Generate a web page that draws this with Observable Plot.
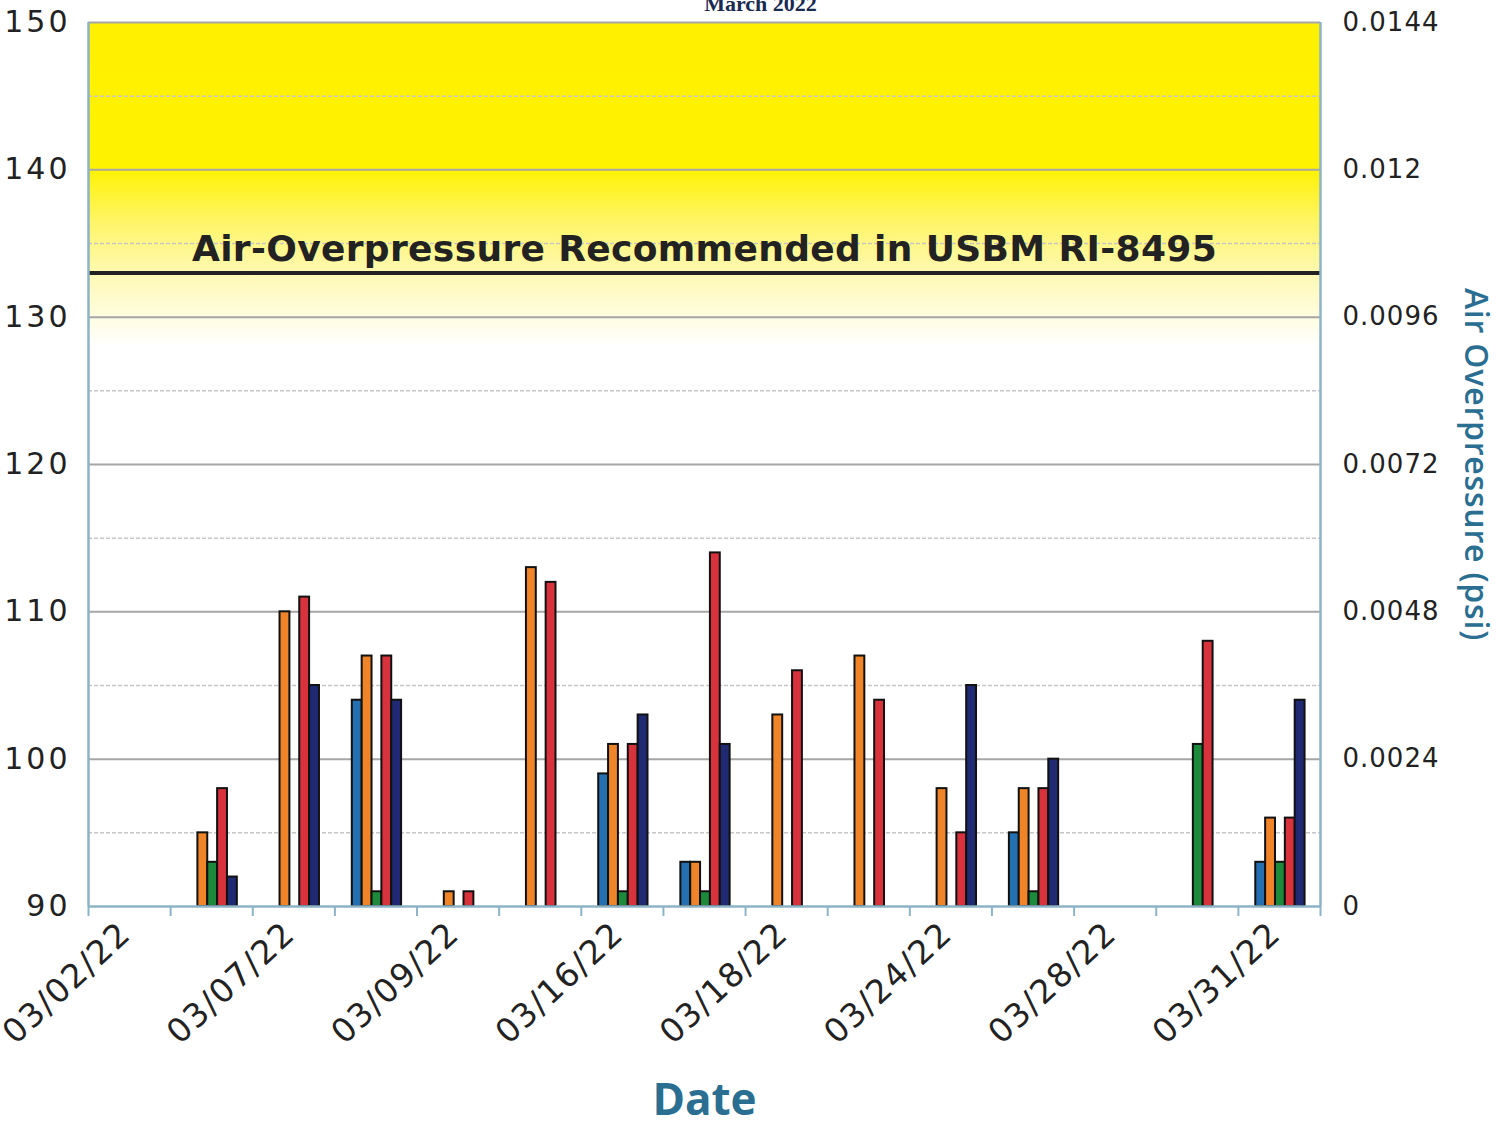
<!DOCTYPE html>
<html><head><meta charset="utf-8">
<script src="https://cdn.jsdelivr.net/npm/d3@7"></script>
<script src="https://cdn.jsdelivr.net/npm/@observablehq/plot@0.6"></script>
<style>
body{margin:0;background:#fff;}
#chart{position:absolute;left:0;top:0;}
</style></head><body><div id="chart"></div>
<script>
// ---- data ----
const title = "March 2022";
const categories = ["c01","c02","c03","c04","c05","c06","c07","c08","c09","c10","c11","c12","c13","c14","c15"];
const tickLabels = ["03/02/22","03/07/22","03/09/22","03/16/22","03/18/22","03/24/22","03/28/22","03/31/22"];
const seriesNames = ["Series 1","Series 2","Series 3","Series 4","Series 5"];
const seriesColors = ["#2470b0","#ef8429","#1d8a3b","#d8323d","#1f2a72"];
const series1 = [null,null,null,104,null,null,99,93,null,null,null,95,null,null,93];
const series2 = [null,95,110,107,91,113,101,93,103,107,98,98,null,null,96];
const series3 = [null,93,null,91,null,null,91,91,null,null,null,91,null,101,93];
const series4 = [null,98,111,107,91,112,101,114,106,104,95,98,null,108,96];
const series5 = [null,92,105,104,null,null,103,101,null,null,105,100,null,null,104];
const dbTicks = [90,100,110,120,130,140,150];
const minorTicks = [95,105,115,125,135,145];
const majorGrid = [100,110,120,130,140,150];
const psiLabels = ["0","0.0024","0.0048","0.0072","0.0096","0.012","0.0144"];
const limitDb = 133;
const limitLabel = "Air-Overpressure Recommended in USBM RI-8495";
const bandTop = 150, bandBottom = 128;
const yAxisTitle = "Air Overpressure (psi)";
const xAxisTitle = "Date";

// ---- build table ----
const seriesValues = [series1, series2, series3, series4, series5];
const groupWidth = 0.6;
const slot = groupWidth / seriesNames.length;
const rows = [];
categories.forEach((c, i) => seriesValues.forEach((vals, j) => {
  const v = vals[i];
  if (v != null) rows.push({cat: c, series: seriesNames[j], value: v,
    x1: i + 0.5 - groupWidth / 2 + j * slot + 0.012,
    x2: i + 0.5 - groupWidth / 2 + (j + 1) * slot + 0.012});
}));
const nCat = categories.length;
const labelPos = tickLabels.map((_, k) => 2 * k + 0.5);
const axisBlue = "#8db3c7";
const teal = "#2a6e92";

const plot = Plot.plot({
  width: 1510, height: 1124,
  marginLeft: 88, marginRight: 190, marginTop: 22, marginBottom: 218,
  x: {domain: [0, nCat]},
  y: {domain: [dbTicks[0], dbTicks[dbTicks.length - 1]]},
  color: {domain: seriesNames, range: seriesColors},
  style: {fontFamily: "DejaVu Sans", background: "white", color: "#222"},
  marks: [
    Plot.rect([{x1: 0, x2: nCat, y1: bandBottom, y2: bandTop}], {x1: "x1", x2: "x2", y1: "y1", y2: "y2", fill: "url(#yellowFade)"}),
    Plot.ruleY(minorTicks, {stroke: "#c6c6c6", strokeWidth: 1.5, strokeDasharray: "4,2"}),
    Plot.ruleY(majorGrid, {stroke: "#a6a6a6", strokeWidth: 2}),
    Plot.ruleY([limitDb], {stroke: "#222", strokeWidth: 4}),
    Plot.text([limitLabel], {x: nCat / 2, y: limitDb, dy: -12, lineAnchor: "bottom", fontSize: 36, fontWeight: "bold", fill: "#222"}),
    Plot.rect(rows, {x1: "x1", x2: "x2", y1: dbTicks[0], y2: "value", fill: "series", stroke: "#111", strokeWidth: 2}),
    Plot.ruleY([dbTicks[0]], {stroke: axisBlue, strokeWidth: 2.5}),
    Plot.ruleX([0, nCat], {stroke: axisBlue, strokeWidth: 2.5}),
    Plot.axisX({ticks: d3.range(nCat + 1), tickSize: 10, tickFormat: () => "", stroke: axisBlue, strokeWidth: 2, label: null}),
    Plot.axisX({ticks: labelPos, tickSize: 0, tickPadding: 22, tickRotate: -43, fontSize: 33, dx: -4,
      tickFormat: d => tickLabels[(d - 0.5) / 2], label: null}),
    Plot.axisY({anchor: "left", ticks: dbTicks, tickSize: 0, tickPadding: 18, fontSize: 30, label: null}),
    Plot.axisY({anchor: "right", ticks: dbTicks, tickSize: 0, tickPadding: 22, fontSize: 26, label: null,
      tickFormat: d => psiLabels[dbTicks.indexOf(d)]}),
    Plot.text([yAxisTitle], {frameAnchor: "right", textAnchor: "middle", rotate: 90, dx: 155, fontSize: 32, fontWeight: 600, fontFamily: "Open Sans", fill: teal}),
    Plot.text([xAxisTitle], {frameAnchor: "bottom", lineAnchor: "middle", dy: 194, fontSize: 44, fontWeight: 700, fontFamily: "Open Sans", fill: teal}),
    Plot.text([title], {frameAnchor: "top", lineAnchor: "bottom", dx: 56, dy: -12, fontSize: 22, fontWeight: "bold", fontFamily: "Liberation Serif", fill: "#1a2a50"})
  ]
});
d3.select(plot).insert("defs", ":first-child").html(`
<linearGradient id="yellowFade" x1="0" y1="0" x2="0" y2="1">
 <stop offset="0" stop-color="#fff000"/>
 <stop offset="0.45" stop-color="#fff200"/>
 <stop offset="0.62" stop-color="#fff56a"/>
 <stop offset="0.78" stop-color="#fff9b4"/>
 <stop offset="1" stop-color="#ffffff"/>
</linearGradient>`);
// letter spacing tweaks
const yLabelGroups = d3.select(plot).selectAll('g[aria-label="y-axis tick label"]');
yLabelGroups.each(function(_, k) { d3.select(this).style("letter-spacing", k === 0 ? "3px" : "1px"); });
d3.select(plot).selectAll('g[aria-label="x-axis tick label"]').style("letter-spacing", "1.5px");
d3.select(plot).selectAll("text").filter(function() { return this.textContent === limitLabel; }).style("letter-spacing", "0.35px");
d3.select(plot).selectAll("text").filter(function() { return this.textContent === yAxisTitle; }).style("letter-spacing", "0.8px");
document.getElementById("chart").appendChild(plot);
</script></body></html>
